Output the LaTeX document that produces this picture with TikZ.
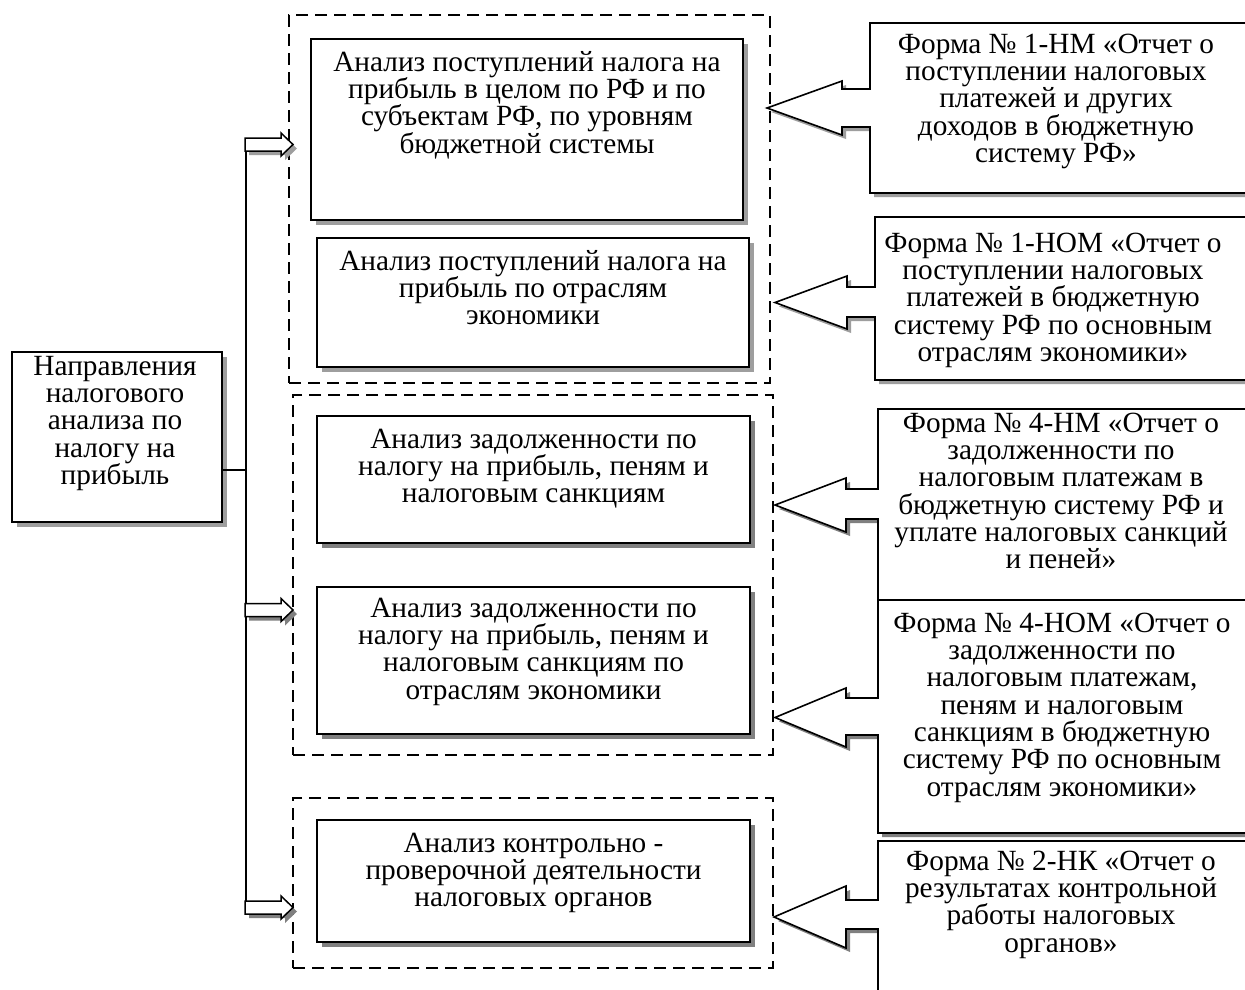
\documentclass[tikz,border=0pt]{standalone}
\usepackage{fontspec}
\setmainfont{Liberation Serif}
\usetikzlibrary{shadows}

\colorlet{solidshade}{black!50}
\colorlet{lightshade}{black!38}

\newcommand\topstrut{\rule{0pt}{21pt}}

\tikzset{
  outline/.style={draw=black, line width=1.6pt, line join=miter},
  box/.style={outline, fill=white, inner sep=0pt,
    drop shadow={shadow xshift=5pt, shadow yshift=-5pt, opacity=1, fill=solidshade}},
  lightbox/.style={box,
    drop shadow={shadow xshift=5pt, shadow yshift=-5pt, opacity=1, fill=lightshade}},
  grp/.style={draw=black, line width=1.6pt, dash pattern=on 12pt off 7pt, inner sep=0pt},
  txt/.style={inner sep=0pt, anchor=north, align=center,
    font=\fontsize{29.3}{27.3}\selectfont},
  conn/.style={draw=black, line width=1.5pt},
}

% hollow block arrow: left end at (#1,#2), shadow colour #3
\newcommand\hollowarrow[3]{%
  \begin{scope}[shift={(#1+4,#2+4)}]
    \fill[#3] (0,-6.5) -- (36,-6.5) -- (36,-11.5) -- (48,0) -- (36,11.5) -- (36,6.5) -- (0,6.5) -- cycle;
  \end{scope}
  \begin{scope}[shift={(#1,#2)}]
    \draw[outline, line width=1.5pt, fill=white] (0,-6.5) -- (36,-6.5) -- (36,-11.5) -- (48,0) -- (36,11.5) -- (36,6.5) -- (0,6.5) -- cycle;
  \end{scope}}

% callout box with a left-pointing arrow
% #1 left, #2 top, #3 bottom, #4/#5 neck top/bottom, #6/#7 barb top/bottom, #8 barb x, #9 tip x
\newcommand\callout[9]{%
  \begin{scope}[shift={(4,4)}]
    \fill[cshade] (1260,#2) -- (#1,#2) -- (#1,#4) -- (#8,#4) -- (#8,#6) -- (#9,{(#6+#7)/2}) -- (#8,#7) -- (#8,#5) -- (#1,#5) -- (#1,#3) -- (1260,#3) -- cycle;
  \end{scope}
  \draw[outline, fill=white] (1260,#2) -- (#1,#2) -- (#1,#4) -- (#8,#4) -- (#8,#6) -- (#9,{(#6+#7)/2}) -- (#8,#7) -- (#8,#5) -- (#1,#5) -- (#1,#3) -- (1260,#3) -- cycle;}

\begin{document}
\begin{tikzpicture}[x=1pt, y=-1pt]
\useasboundingbox (0,0) rectangle (1245,989);
\fill[white] (0,0) rectangle (1245,989);
\begin{scope}
\clip (0,0) rectangle (1245,989);

% root box
\node[lightbox, minimum width=210pt, minimum height=170pt] (root) at (117,437) {};
\node[txt] (roott) at (115,354) {\topstrut Направления\\налогового\\анализа по\\налогу на\\прибыль};

% dashed groups
\node[grp, minimum width=481pt, minimum height=368pt] (g1) at (529.5,199) {};
\node[grp, minimum width=480pt, minimum height=360pt] (g2) at (533,575) {};
\node[grp, minimum width=480pt, minimum height=170pt] (g3) at (533,883) {};

% analysis boxes
\node[lightbox, minimum width=432pt, minimum height=181pt] (a1) at (527,129.5) {};
\node[txt] (a1t) at (527,50) {\topstrut Анализ поступлений налога на\\прибыль в целом по РФ и по\\субъектам РФ, по уровням\\бюджетной системы};
\node[lightbox, minimum width=432pt, minimum height=129pt] (a2) at (533,302.5) {};
\node[txt] (a2t) at (533,249) {\topstrut Анализ поступлений налога на\\прибыль по отраслям\\экономики};
\node[box, minimum width=433pt, minimum height=127pt] (b1) at (533.5,479.5) {};
\node[txt] (b1t) at (533.5,427) {\topstrut Анализ задолженности по\\налогу на прибыль, пеням и\\налоговым санкциям};
\node[box, minimum width=433pt, minimum height=147pt] (b2) at (533.5,660.5) {};
\node[txt] (b2t) at (533.5,596) {\topstrut Анализ задолженности по\\налогу на прибыль, пеням и\\налоговым санкциям по\\отраслям экономики};
\node[box, minimum width=433pt, minimum height=122pt] (c1) at (533.5,881) {};
\node[txt] (c1t) at (533.5,831) {\topstrut Анализ контрольно -\\проверочной деятельности\\налоговых органов};

% trunk line and branches
\coordinate (jn) at (246,470);
\coordinate (st) at (246,151);
\coordinate (sb) at (246,913);
\draw[conn] (root.east |- jn) -- (jn);
\draw[conn] (st) -- (sb);
\hollowarrow{245}{144.5}{lightshade}
\hollowarrow{245}{610}{solidshade}
\hollowarrow{245}{907.5}{solidshade}

% report forms
\colorlet{cshade}{lightshade}
\callout{870}{23}{193}{89}{127}{81}{135}{842}{767}
\node[txt] (f1t) at (1056,32) {\topstrut Форма № 1-НМ «Отчет о\\поступлении налоговых\\платежей и других\\доходов в бюджетную\\систему РФ»};
\callout{875}{217}{380}{287}{317}{276}{329}{847}{775}
\node[txt] (f2t) at (1053,231) {\topstrut Форма № 1-НОМ «Отчет о\\поступлении налоговых\\платежей в бюджетную\\систему РФ по основным\\отраслям экономики»};
\colorlet{cshade}{solidshade}
\callout{878}{409}{600}{489}{519}{478}{532}{846}{775}
\node[txt] (f3t) at (1061,411) {\topstrut Форма № 4-НМ «Отчет о\\задолженности по\\налоговым платежам в\\бюджетную систему РФ и\\уплате налоговых санкций\\и пеней»};
\callout{878}{600}{833}{698}{735}{688}{747}{846}{775}
\node[txt] (f4t) at (1062,611) {\topstrut Форма № 4-НОМ «Отчет о\\задолженности по\\налоговым платежам,\\пеням и налоговым\\санкциям в бюджетную\\систему РФ по основным\\отраслям экономики»};
\callout{878}{841}{1010}{900}{929}{886}{948}{846}{774}
\node[txt] (f5t) at (1061,849) {\topstrut Форма № 2-НК «Отчет о\\результатах контрольной\\работы налоговых\\органов»};
\end{scope}
\end{tikzpicture}
\end{document}
